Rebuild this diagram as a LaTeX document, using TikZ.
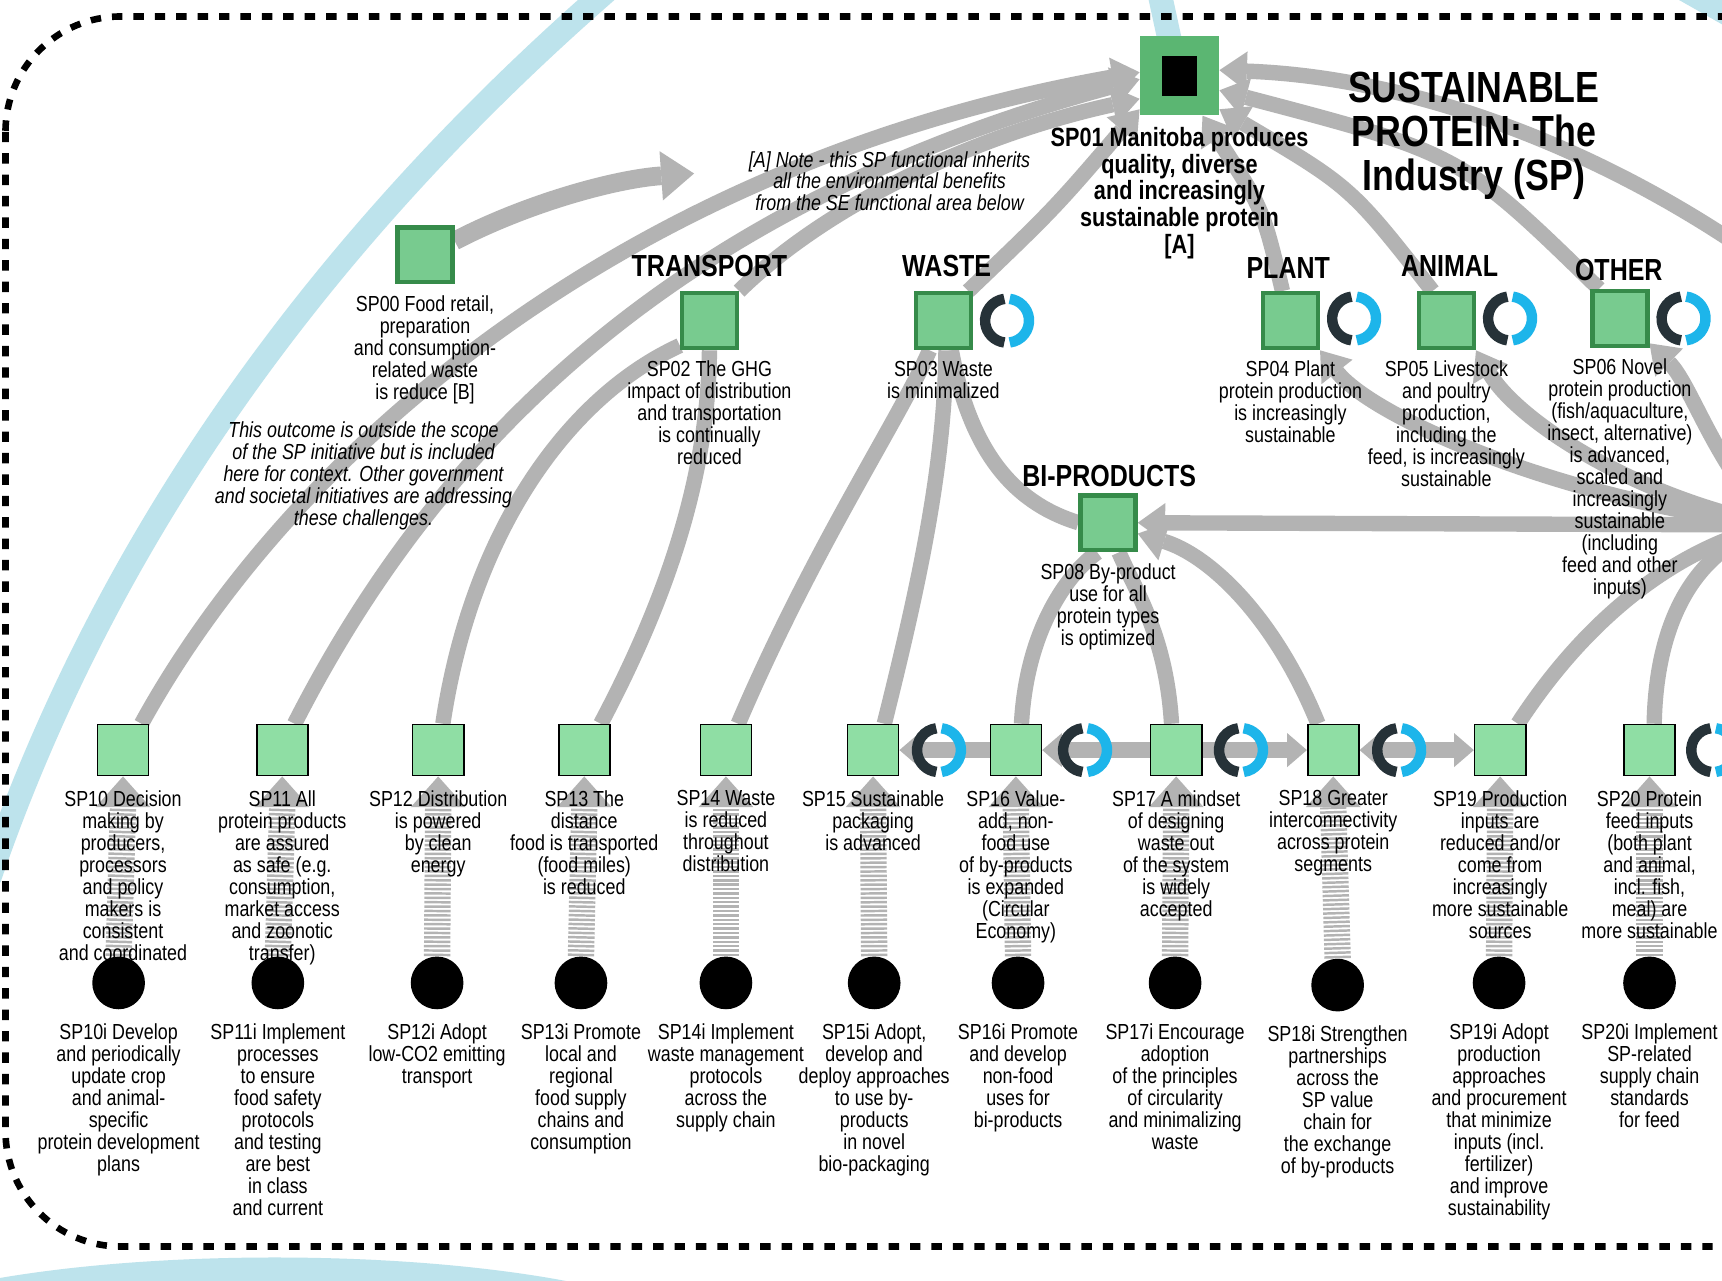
\documentclass[tikz,border=0pt]{standalone}
\usepackage{fontspec}
\setmainfont{Liberation Sans}[FakeStretch=0.82]
\usetikzlibrary{positioning,arrows.meta,calc}

\pgfdeclarelayer{back}
\pgfdeclarelayer{bands}
\pgfsetlayers{back,bands,main}

\definecolor{bandgray}{HTML}{B3B3B3}
\definecolor{skyband}{HTML}{BDE3EC}
\definecolor{midfill}{HTML}{78CB8F}
\definecolor{midline}{HTML}{368B4A}
\definecolor{topfill}{HTML}{5BB672}
\definecolor{lowfill}{HTML}{8FDEA4}
\definecolor{cycdark}{HTML}{263238}
\definecolor{cycblue}{HTML}{1DB5EA}

\newcommand\lblsize{\fontsize{11.3}{11.4}\selectfont}

\tikzset{
  midbox/.style={draw=midline, fill=midfill, line width=0.08cm, minimum size=1cm, inner sep=0},
  lowbox/.style={draw=black, fill=lowfill, line width=0.03cm, minimum size=0.93cm, inner sep=0},
  dot/.style={circle, fill=black, minimum size=0.96cm, inner sep=0},
  lbl/.style={align=center, inner sep=0, font=\lblsize},
  note/.style={align=center, inner sep=0, font=\lblsize\itshape},
  goallbl/.style={align=center, inner sep=0, font=\fontsize{13.7}{13.9}\selectfont\bfseries},
  title/.style={align=center, inner sep=0, font=\fontsize{22.6}{22.8}\selectfont\bfseries},
  cat/.style={inner sep=0, font=\fontsize{15.8}{16}\selectfont\bfseries},
  band/.style={draw=bandgray, line width=0.28cm},
  bandto/.style={band, -{Triangle[width=0.72cm, length=0.5cm, line width=0pt]}},
  bandlow/.style={band, -{Triangle[width=0.62cm, length=0.36cm, line width=0pt]}},
  hatch/.style={draw=bandgray, line width=0.48cm, dash pattern=on 0.045cm off 0.035cm},
  sky/.style={draw=skyband, line width=0.44cm},
  frame/.style={draw=black, line width=0.12cm, dash pattern=on 0.19cm off 0.2cm, rounded corners=2.1cm},
  cycicon/.pic={
    \draw[cycdark, line width=0.19cm] (97:0.4cm) arc (97:263:0.4cm);
    \draw[cycblue, line width=0.19cm] (-83:0.4cm) arc (-83:83:0.4cm);
  }
}

\begin{document}
\begin{tikzpicture}[x=0.02cm, y=-0.02cm, >=latex]
\useasboundingbox (0,0) rectangle (1568,1166);
\clip (0,0) rectangle (1568,1166);

% goal and title
\node[fill=topfill, minimum size=1.44cm, inner sep=0] (sp01) at (1074,69) {};
\node[fill=black, minimum width=0.64cm, minimum height=0.72cm, inner sep=0] (sp01core) at (sp01) {};
\node[goallbl, below=0.2cm of sp01] (t01) {SP01 Manitoba produces\\quality, diverse\\and increasingly\\sustainable protein\\{[A]}};
\node[title] (title) at (1342,124) {SUSTAINABLE\\PROTEIN: The\\Industry (SP)};

% functional areas
\node[midbox] (sp00) at (387,232) {};
\node[midbox] (sp02) at (646,292) {};
\node[midbox] (sp03) at (859,292) {};
\node[midbox] (sp04) at (1175,292) {};
\node[midbox] (sp05) at (1317,292) {};
\node[midbox] (sp06) at (1475,290) {};
\node[midbox] (sp08) at (1009,476) {};

\node[cat] (catTransport) at (646,242) {TRANSPORT};
\node[cat] (catWaste) at (862,242) {WASTE};
\node[cat] (catPlant) at (1173,244) {PLANT};
\node[cat] (catAnimal) at (1320,242) {ANIMAL};
\node[cat] (catOther) at (1474,246) {OTHER};
\node[cat] (catBi) at (1010,433) {BI-PRODUCTS};

\node[lbl, below=0.19cm of sp00] (t00) {SP00 Food retail,\\preparation\\and consumption-\\related waste\\is reduce [B]};
\node[lbl, below=0.19cm of sp02] (t02) {SP02 The GHG\\impact of distribution\\and transportation\\is continually\\reduced};
\node[lbl, below=0.19cm of sp03] (t03) {SP03 Waste\\is minimalized};
\node[lbl, below=0.19cm of sp04] (t04) {SP04 Plant\\protein production\\is increasingly\\sustainable};
\node[lbl, below=0.19cm of sp05] (t05) {SP05 Livestock\\and poultry\\production,\\including the\\feed, is increasingly\\sustainable};
\node[lbl, below=0.19cm of sp06] (t06) {SP06 Novel\\protein production\\(fish/aquaculture,\\insect, alternative)\\is advanced,\\scaled and\\increasingly\\sustainable\\(including\\feed and other\\inputs)};
\node[lbl, below=0.19cm of sp08] (t08) {SP08 By-product\\use for all\\protein types\\is optimized};

\node[note] (noteA) at (810,165) {[A] Note - this SP functional inherits\\all the environmental benefits\\from the SE functional area below};
\node[note] (noteB) at (331,433) {This outcome is outside the scope\\of the SP initiative but is included\\here for context. Other government\\and societal initiatives are addressing\\these challenges.};

% outcomes
\node[lowbox] (sp10) at (112,683) {};
\node[lowbox] (sp11) at (257,683) {};
\node[lowbox] (sp12) at (399,683) {};
\node[lowbox] (sp13) at (532,683) {};
\node[lowbox] (sp14) at (661,683) {};
\node[lowbox] (sp15) at (795,683) {};
\node[lowbox] (sp16) at (925,683) {};
\node[lowbox] (sp17) at (1071,683) {};
\node[lowbox] (sp18) at (1214,683) {};
\node[lowbox] (sp19) at (1366,683) {};
\node[lowbox] (sp20) at (1502,683) {};

\node[lbl, below=0.25cm of sp10] (t10) {SP10 Decision\\making by\\producers,\\processors\\and policy\\makers is\\consistent\\and coordinated};
\node[lbl, below=0.25cm of sp11] (t11) {SP11 All\\protein products\\are assured\\as safe (e.g.\\consumption,\\market access\\and zoonotic\\transfer)};
\node[lbl, below=0.25cm of sp12] (t12) {SP12 Distribution\\is powered\\by clean\\energy};
\node[lbl, below=0.25cm of sp13] (t13) {SP13 The\\distance\\food is transported\\(food miles)\\is reduced};
\node[lbl, below=0.25cm of sp14] (t14) {SP14 Waste\\is reduced\\throughout\\distribution};
\node[lbl, below=0.25cm of sp15] (t15) {SP15 Sustainable\\packaging\\is advanced};
\node[lbl, below=0.25cm of sp16] (t16) {SP16 Value-\\add, non-\\food use\\of by-products\\is expanded\\(Circular\\Economy)};
\node[lbl, below=0.25cm of sp17] (t17) {SP17 A mindset\\of designing\\waste out\\of the system\\is widely\\accepted};
\node[lbl, below=0.25cm of sp18] (t18) {SP18 Greater\\interconnectivity\\across protein\\segments};
\node[lbl, below=0.25cm of sp19] (t19) {SP19 Production\\inputs are\\reduced and/or\\come from\\increasingly\\more sustainable\\sources};
\node[lbl, below=0.25cm of sp20] (t20) {SP20 Protein\\feed inputs\\(both plant\\and animal,\\incl. fish,\\meal) are\\more sustainable};

% interventions
\node[dot] (c10) at (108,895) {};
\node[dot] (c11) at (253,895) {};
\node[dot] (c12) at (398,895) {};
\node[dot] (c13) at (529,895) {};
\node[dot] (c14) at (661,895) {};
\node[dot] (c15) at (796,895) {};
\node[dot] (c16) at (927,895) {};
\node[dot] (c17) at (1070,895) {};
\node[dot] (c18) at (1218,897) {};
\node[dot] (c19) at (1365,895) {};
\node[dot] (c20) at (1502,895) {};

\node[lbl, below=0.25cm of c10] (i10) {SP10i Develop\\and periodically\\update crop\\and animal-\\specific\\protein development\\plans};
\node[lbl, below=0.25cm of c11] (i11) {SP11i Implement\\processes\\to ensure\\food safety\\protocols\\and testing\\are best\\in class\\and current};
\node[lbl, below=0.25cm of c12] (i12) {SP12i Adopt\\low-CO2 emitting\\transport};
\node[lbl, below=0.25cm of c13] (i13) {SP13i Promote\\local and\\regional\\food supply\\chains and\\consumption};
\node[lbl, below=0.25cm of c14] (i14) {SP14i Implement\\waste management\\protocols\\across the\\supply chain};
\node[lbl, below=0.25cm of c15] (i15) {SP15i Adopt,\\develop and\\deploy approaches\\to use by-\\products\\in novel\\bio-packaging};
\node[lbl, below=0.25cm of c16] (i16) {SP16i Promote\\and develop\\non-food\\uses for\\bi-products};
\node[lbl, below=0.25cm of c17] (i17) {SP17i Encourage\\adoption\\of the principles\\of circularity\\and minimalizing\\waste};
\node[lbl, below=0.25cm of c18] (i18) {SP18i Strengthen\\partnerships\\across the\\SP value\\chain for\\the exchange\\of by-products};
\node[lbl, below=0.25cm of c19] (i19) {SP19i Adopt\\production\\approaches\\and procurement\\that minimize\\inputs (incl.\\fertilizer)\\and improve\\sustainability};
\node[lbl, below=0.25cm of c20] (i20) {SP20i Implement\\SP-related\\supply chain\\standards\\for feed};

% loose ends
\coordinate (sp00tip) at (632,158);
\coordinate (feedR) at (1615,478);
\coordinate (feedTop) at (1600,235);

% cycle marks
\pic at ($(sp03.east)+(31,0)$) {cycicon};
\pic at ($(sp04.east)+(31,-2)$) {cycicon};
\pic at ($(sp05.east)+(31,-2)$) {cycicon};
\pic at ($(sp06.east)+(31,0)$) {cycicon};
\pic at ($(sp15.east)+(36,0)$) {cycicon};
\pic at ($(sp16.east)+(39,0)$) {cycicon};
\pic at ($(sp17.east)+(35,0)$) {cycicon};
\pic at ($(sp18.east)+(36,0)$) {cycicon};
\pic at ($(sp20.east)+(34,0)$) {cycicon};

\begin{pgfonlayer}{back}
  \fill[white] (0,0) rectangle (1568,1166);
  \draw[sky] (560,-15) .. controls (300,210) and (100,480) .. (-10,800);
  \draw[sky] (1055,-10) -- (1068,50);
  \draw[sky] (1530,-12) -- (1590,22);
  \fill[skyband] (250,1230) ellipse [x radius=8cm, y radius=1.7cm];
  \draw[frame] (5,15) rectangle (1700,1135);
\end{pgfonlayer}

\begin{pgfonlayer}{bands}
  % into the goal
  \draw[band, line width=0.34cm, -{Triangle[width=0.9cm, length=0.6cm, line width=0pt]}] (sp00.25) .. controls (480,185) and (560,163) .. (sp00tip);
  \draw[bandto] (sp10.55) .. controls (260,420) and (560,150) .. (sp01.175);
  \draw[bandto] (sp11.65) .. controls (390,420) and (600,190) .. (sp01.185);
  \draw[bandto] (sp02.45) .. controls (760,180) and (900,120) .. (sp01.-150);
  \draw[bandto] (sp03.50) .. controls (960,190) .. (sp01.-140);
  \draw[bandto] (sp04.105) .. controls (1150,190) .. (sp01.-60);
  \draw[bandto] (sp05.115) .. controls (1230,170) .. (sp01.-40);
  \draw[bandto] (sp06.125) .. controls (1330,140) .. (sp01.-20);
  \draw[bandto] (feedTop) .. controls (1450,130) and (1280,70) .. (sp01.8);
  % into the areas
  \draw[band] (sp12.80) .. controls (430,480) and (520,360) .. (sp02.-140);
  \draw[band] (sp13.58) .. controls (610,540) and (645,430) .. (sp02.-90);
  \draw[band] (sp14.65) .. controls (740,500) and (820,380) .. (sp03.-115);
  \draw[band] (sp15.67) .. controls (840,520) and (860,420) .. (sp03.-85);
  \draw[band] (sp03.-75) .. controls (885,420) and (930,460) .. (sp08.west);
  \draw[band] (sp16.78) .. controls (935,570) and (975,520) .. (sp08.-110);
  \draw[band] (sp17.100) .. controls (1062,580) and (1035,540) .. (sp08.-70);
  \draw[bandto] (sp18.120) .. controls (1160,560) and (1100,505) .. (sp08.-20);
  \draw[bandto] (feedR) -- (sp08.east);
  \draw[bandto] (feedR) .. controls (1420,455) and (1250,380) .. (sp04.-45);
  \draw[bandto] (feedR) .. controls (1480,450) and (1380,380) .. (sp05.-45);
  \draw[bandto] (feedR) .. controls (1560,420) and (1540,350) .. (sp06.-40);
  \draw[band] (sp19.56) .. controls (1440,570) and (1520,500) .. (feedR);
  \draw[band] (sp20.80) .. controls (1508,570) and (1540,500) .. (feedR);
  % along the outcomes
  \draw[bandlow] (sp16.west) -- (sp15.east);
  \draw[bandlow] (sp17.west) -- (sp16.east);
  \draw[bandlow] (sp17.east) -- (sp18.west);
  \draw[band, {Triangle[width=0.62cm, length=0.36cm, line width=0pt]}-{Triangle[width=0.62cm, length=0.36cm, line width=0pt]}] (sp18.east) -- (sp19.west);
  % interventions up to outcomes
  \draw[hatch] (c10.north) -- ($(sp10.south)+(0,28)$);
  \draw[hatch] (c11.north) -- ($(sp11.south)+(0,28)$);
  \draw[hatch] (c12.north) -- ($(sp12.south)+(0,28)$);
  \draw[hatch] (c13.north) -- ($(sp13.south)+(0,28)$);
  \draw[hatch] (c14.north) -- ($(sp14.south)+(0,28)$);
  \draw[hatch] (c15.north) -- ($(sp15.south)+(0,28)$);
  \draw[hatch] (c16.north) -- ($(sp16.south)+(0,28)$);
  \draw[hatch] (c17.north) -- ($(sp17.south)+(0,28)$);
  \draw[hatch] (c18.north) -- ($(sp18.south)+(0,28)$);
  \draw[hatch] (c19.north) -- ($(sp19.south)+(0,28)$);
  \draw[hatch] (c20.north) -- ($(sp20.south)+(0,28)$);
  \fill[bandgray] (sp10.south) -- ++(-25,28) -- ++(50,0) -- cycle;
  \fill[bandgray] (sp11.south) -- ++(-25,28) -- ++(50,0) -- cycle;
  \fill[bandgray] (sp12.south) -- ++(-25,28) -- ++(50,0) -- cycle;
  \fill[bandgray] (sp13.south) -- ++(-25,28) -- ++(50,0) -- cycle;
  \fill[bandgray] (sp14.south) -- ++(-25,28) -- ++(50,0) -- cycle;
  \fill[bandgray] (sp15.south) -- ++(-25,28) -- ++(50,0) -- cycle;
  \fill[bandgray] (sp16.south) -- ++(-25,28) -- ++(50,0) -- cycle;
  \fill[bandgray] (sp17.south) -- ++(-25,28) -- ++(50,0) -- cycle;
  \fill[bandgray] (sp18.south) -- ++(-25,28) -- ++(50,0) -- cycle;
  \fill[bandgray] (sp19.south) -- ++(-25,28) -- ++(50,0) -- cycle;
  \fill[bandgray] (sp20.south) -- ++(-25,28) -- ++(50,0) -- cycle;
\end{pgfonlayer}
\end{tikzpicture}
\end{document}
